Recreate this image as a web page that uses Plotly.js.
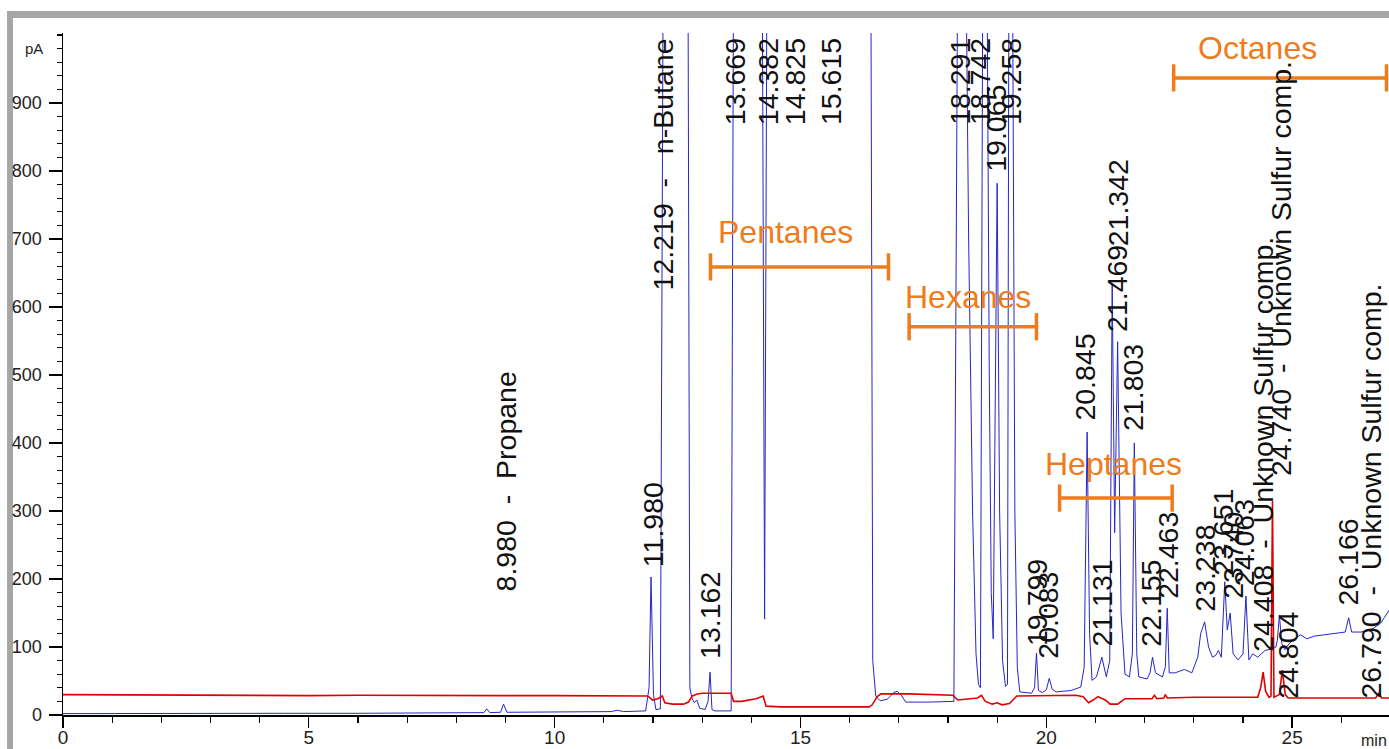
<!DOCTYPE html>
<html><head><meta charset="utf-8">
<script src="https://cdn.plot.ly/plotly-3.0.1.min.js"></script>
<style>html,body{margin:0;padding:0;background:#fff;overflow:hidden}#chart{width:1389px;height:749px}</style>
</head><body><div id="chart"></div>
<script>
// ---- FID trace (blue): retention time (min) and signal (pA); off-scale peaks exceed the axis
const blueTime = [0,1.5,3,4.5,6,7.5,8.4,8.56,8.62,8.68,8.9,8.96,9.03,10.5,11.15,11.27,11.4,11.85,11.92,11.96,12.01,12.06,12.15,12.21,12.71,12.75,12.79,12.84,12.89,12.95,13.06,13.12,13.16,13.2,13.26,13.59,13.64,14.22,14.27,14.32,16.43,16.47,16.53,16.62,16.76,16.9,16.97,17.06,17.14,17.6,18.12,18.2,18.36,18.42,18.5,18.57,18.62,18.66,18.71,18.79,18.84,18.88,18.92,18.96,19.0,19.05,19.11,19.17,19.21,19.24,19.31,19.36,19.41,19.46,19.7,19.76,19.8,19.84,19.92,20.0,20.06,20.12,20.2,20.5,20.7,20.77,20.83,20.88,20.93,21.02,21.13,21.22,21.29,21.34,21.39,21.45,21.52,21.6,21.69,21.75,21.79,21.84,21.88,22.05,22.11,22.16,22.22,22.36,22.42,22.46,22.5,22.62,22.81,22.96,23.08,23.14,23.22,23.3,23.38,23.45,23.5,23.56,23.63,23.68,23.74,23.8,23.9,24.0,24.06,24.12,24.2,24.3,24.45,24.58,24.67,24.7,24.74,24.79,24.85,24.94,25.05,25.17,25.3,25.45,25.63,25.85,26.08,26.15,26.21,26.4,26.6,26.8,26.98];
const bluePA   = [2,2.5,2,2.5,2.5,3,3,3.5,9,3.5,4,16,4,4,5,7,5,6,40,203,30,8,9,1150,1150,40,25,18,22,10,8,20,63,8,6,6,1150,1150,141,1150,1150,80,28,21,23,33,35,28,19,19,20,1150,1150,700,300,90,45,40,1150,1150,500,180,112,450,782,300,80,42,45,1150,1150,300,70,34,32,40,91,36,33,37,54,38,34,36,41,70,416,120,51,56,85,56,80,635,268,549,150,60,56,90,400,90,56,53,62,85,62,56,70,157,62,62,67,62,85,120,137,100,85,88,95,85,196,125,150,90,81,90,175,81,90,85,95,97,100,110,147,105,96,105,112,118,112,116,118,120,122,143,122,122,125,135,155];

// ---- SCD trace (red)
const redTime = [0,1,2,3,4,5,6,7,8,9,10,11,11.88,11.93,11.99,12.1,12.19,12.24,12.4,12.62,12.72,12.8,12.9,13.0,13.59,13.64,13.8,14.1,14.24,14.3,14.6,16.4,16.46,16.56,16.64,17.2,18.1,18.2,18.4,18.6,18.68,18.76,18.9,19.0,19.1,19.25,19.4,19.8,20.2,20.6,20.75,20.86,20.95,21.05,21.2,21.3,21.45,21.6,22.15,22.2,22.25,22.39,22.42,22.46,23.0,24.3,24.36,24.41,24.46,24.53,24.57,24.6,24.63,24.74,24.8,24.86,24.92,26.7,26.76,26.82,26.98];
const redPA   = [30,29.5,29,29.5,29,28.5,29,28.5,29,28.5,28.5,28,28,26,22,24,28,18,16,16,19,28,31,32,32,20,20,24,28,13,12,12,15,27,31,31,29,22,24,25,29,20,16,18,15,17,28,28,29,29,27,18,22,27,22,16,16,24,24,29,24,25,30,25,26,26,40,63,35,26,28,315,26,30,66,30,25,25,32,25,25];

// ---- peak labels
const peakText = ["8.980  -  Propane","11.980","12.219  -   n-Butane","13.162","13.669","14.382","14.825","15.615","18.291","18.742","19.065","19.258","19.799","20.083","20.845","21.131","21.342","21.469","21.803","22.155","22.463","23.238","23.651","23.740","24.063","24.408  -  Unknown Sulfur comp.","24.740  -  Unknown Sulfur comp.","24.804","26.166","26.790  -  Unknown Sulfur comp."];
const peakTextTime = [9.0,11.99,12.21,13.17,13.66,14.33,14.88,15.61,18.23,18.64,18.96,19.27,19.80,20.04,20.79,21.14,21.45,21.45,21.75,22.14,22.46,23.21,23.60,23.78,24.01,24.39,24.76,24.90,26.14,26.95];

// ---- compound groups
const groupNames = ["Pentanes","Hexanes","Heptanes","Octanes"];
const groupStart = [13.17,17.21,20.27,22.59];
const groupEnd   = [16.79,19.80,22.56,26.92];

// ---- axis ticks
const xTicks = [0,5,10,15,20,25];
const yTicks = [0,100,200,300,400,500,600,700,800,900];

// label placement (pA level of the label's lower end, or its upper end for off-scale peaks)
const labelEdge = ["b","b","t","b","t","t","t","t","t","t","b","t","b","b","b","b","b","b","b","b","b","b","b","b","b","b","t","b","b","b"];
const labelLevel = [181,216,997,81,997,997,997,997,997,997,797,997,100,81,431,99,688,562,416,99,169,150,203,169,188,91,963,22,159,22];
const groupLevel = [659,571,319,937];
const groupTextTime = [14.69,18.41,21.36,24.29];
const groupTextLevel = [711,615,369,981];

const labelFont = {family:'"Liberation Sans", Arial, sans-serif', size:28.5, color:'#111'};
const orange = '#EF7B1A';
const annotations = [];
peakText.forEach((t,i)=>{
  const last = i === peakText.length-1;
  annotations.push({x:peakTextTime[i], y:labelLevel[i], xref:'x', yref:'y', text:t, showarrow:false,
    textangle:-90, xanchor: last ? 'right' : 'center', yanchor: labelEdge[i]==='t'?'top':'bottom', font:labelFont, borderpad:0});
});
groupNames.forEach((g,i)=>{
  annotations.push({x:groupTextTime[i], y:groupTextLevel[i], xref:'x', yref:'y', text:g, showarrow:false,
    xanchor:'center', yanchor:'middle', font:{family:'"Liberation Sans", Arial, sans-serif', size:32, color:orange}, borderpad:0});
});
annotations.push({x:-0.0215, y:0.978, xref:'paper', yref:'paper', text:'pA', showarrow:false, xanchor:'center', yanchor:'middle',
  font:{family:'"Liberation Sans", Arial, sans-serif', size:15, color:'#222'}});
annotations.push({x:0.9995, y:-0.037, xref:'paper', yref:'paper', text:'min', showarrow:false, xanchor:'right', yanchor:'middle',
  font:{family:'"Liberation Sans", Arial, sans-serif', size:16, color:'#222'}, borderpad:0});

const shapes = [];
const capHalf = 20;
groupNames.forEach((g,i)=>{
  const ln = {color:orange, width:3.5};
  shapes.push({type:'line', xref:'x', yref:'y', x0:groupStart[i], x1:groupEnd[i], y0:groupLevel[i], y1:groupLevel[i], line:ln});
  shapes.push({type:'line', xref:'x', yref:'y', x0:groupStart[i], x1:groupStart[i], y0:groupLevel[i]-capHalf, y1:groupLevel[i]+capHalf, line:ln});
  shapes.push({type:'line', xref:'x', yref:'y', x0:groupEnd[i], x1:groupEnd[i], y0:groupLevel[i]-capHalf, y1:groupLevel[i]+capHalf, line:ln});
});
// grey window frame (top and left)
shapes.push({type:'rect', xref:'paper', yref:'paper', x0:-0.0422, x1:1.01, y0:1.022, y1:1.0323, fillcolor:'#A6A6A6', line:{width:0}, layer:'below'});
shapes.push({type:'rect', xref:'paper', yref:'paper', x0:-0.0422, x1:-0.0377, y0:-0.06, y1:1.0323, fillcolor:'#A6A6A6', line:{width:0}, layer:'below'});

const traces = [
  {x:blueTime, y:bluePA, type:'scatter', mode:'lines', line:{color:'#2626c8', width:1}, hoverinfo:'skip'},
  {x:redTime, y:redPA, type:'scatter', mode:'lines', line:{color:'#e00000', width:1.6}, hoverinfo:'skip'}
];

const layout = {
  width:1389, height:749,
  margin:{l:63, r:0, t:33, b:34, pad:0},
  paper_bgcolor:'#fff', plot_bgcolor:'#fff',
  showlegend:false,
  xaxis:{range:[0,26.97], showgrid:false, zeroline:false, showline:true, linecolor:'#000', linewidth:1.5,
    tickmode:'array', tickvals:xTicks, ticks:'outside', ticklen:11, tickwidth:1.3, tickcolor:'#000',
    ticklabelstandoff:-6,
    tickfont:{family:'"Liberation Sans", Arial, sans-serif', size:19, color:'#222'},
    minor:{dtick:1, ticks:'outside', ticklen:6, tickwidth:1.2, tickcolor:'#000', showgrid:false}},
  yaxis:{range:[0,1003], showgrid:false, zeroline:false, showline:true, linecolor:'#000', linewidth:1.5,
    tickmode:'array', tickvals:yTicks, ticks:'outside', ticklen:13, tickwidth:1.3, tickcolor:'#000',
    ticklabelstandoff:3,
    tickfont:{family:'"Liberation Sans", Arial, sans-serif', size:18, color:'#222'},
    minor:{dtick:20, ticks:'outside', ticklen:5, tickwidth:1.2, tickcolor:'#000', showgrid:false}},
  annotations:annotations,
  shapes:shapes
};
Plotly.newPlot('chart', traces, layout, {displayModeBar:false, staticPlot:true});
</script></body></html>
